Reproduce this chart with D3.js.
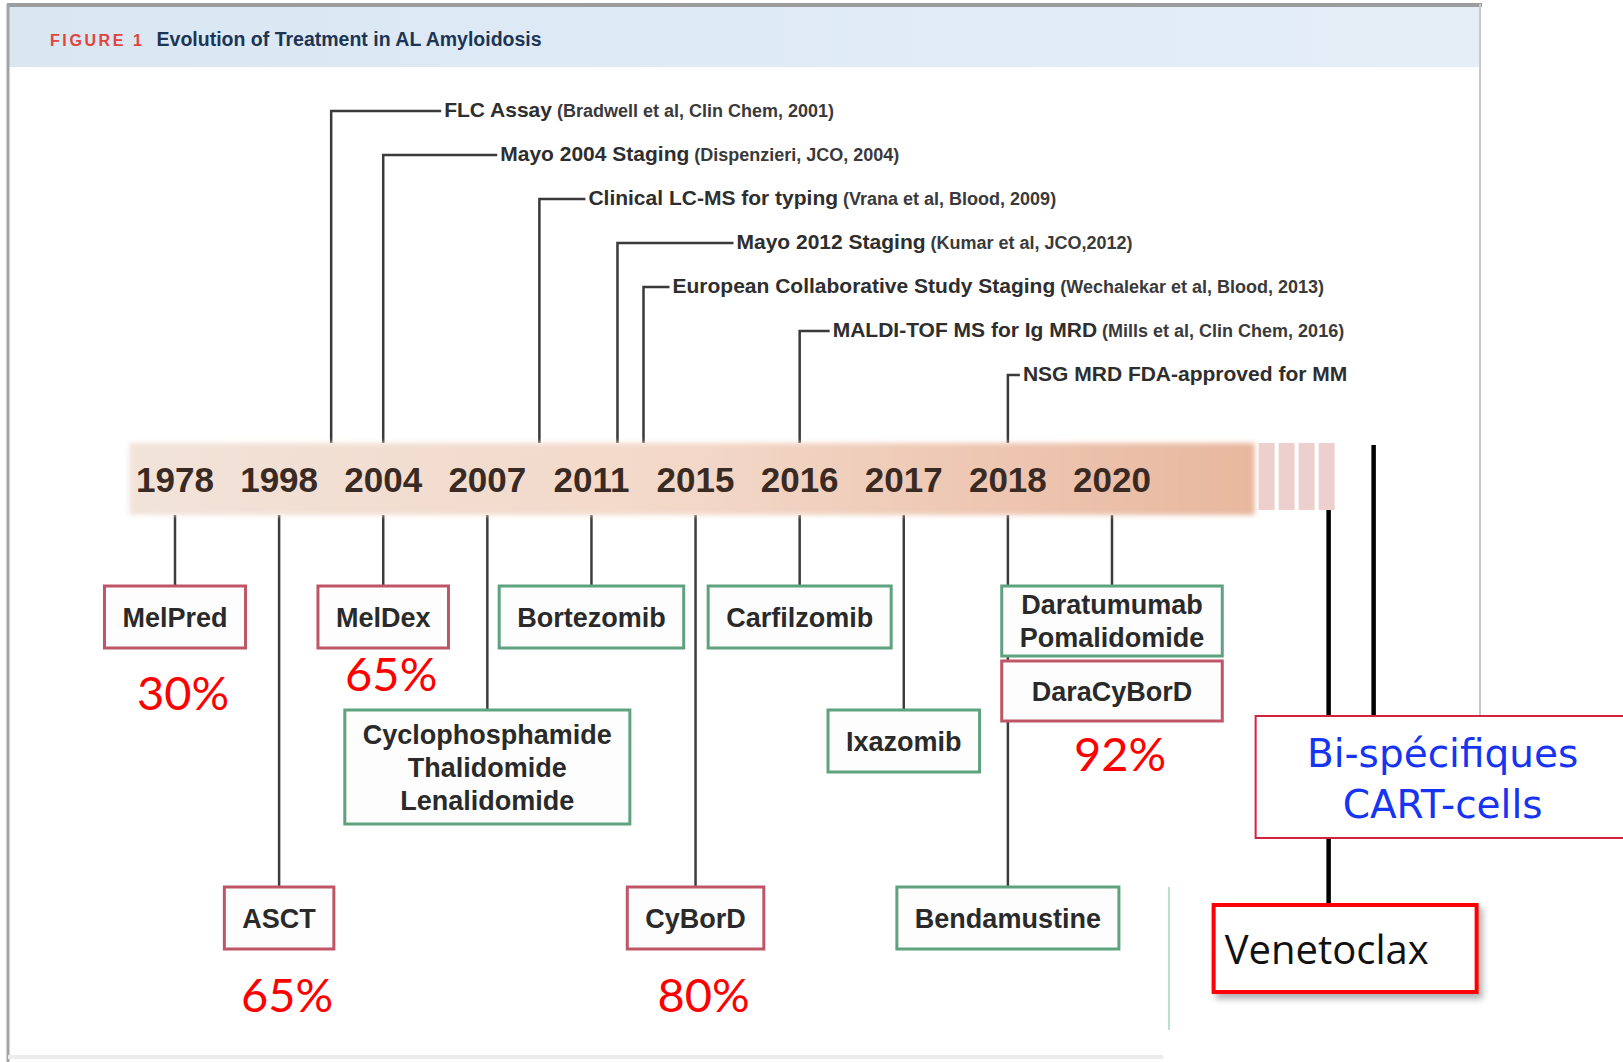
<!DOCTYPE html>
<html>
<head>
<meta charset="utf-8">
<script src="https://cdn.jsdelivr.net/npm/d3@7"></script>
<style>
  html, body { margin: 0; padding: 0; background: #fff; }
  svg { display: block; }
</style>
</head>
<body>
<svg id="chart" width="1623" height="1062"></svg>
<script>
// years printed on the timeline band
const years = ["1978", "1998", "2004", "2007", "2011", "2015", "2016", "2017", "2018", "2020"];

// diagnostic milestones above the band
const milestoneNames = ["FLC Assay", "Mayo 2004 Staging", "Clinical LC-MS for typing", "Mayo 2012 Staging",
  "European Collaborative Study Staging", "MALDI-TOF MS for Ig MRD", "NSG MRD FDA-approved for MM"];
const milestoneRefs = ["(Bradwell et al, Clin Chem, 2001)", "(Dispenzieri, JCO, 2004)", "(Vrana et al, Blood, 2009)",
  "(Kumar et al, JCO,2012)", "(Wechalekar et al, Blood, 2013)", "(Mills et al, Clin Chem, 2016)", ""];
const milestoneYears = [2001, 2004, 2009, 2012, 2013, 2016, 2018];

// treatments below the band
const treatmentLabels = [["MelPred"], ["ASCT"], ["MelDex"], ["Cyclophosphamide", "Thalidomide", "Lenalidomide"],
  ["Bortezomib"], ["CyBorD"], ["Carfilzomib"], ["Ixazomib"], ["Bendamustine"], ["Daratumumab", "Pomalidomide"], ["DaraCyBorD"]];
const treatmentYears = ["1978", "1998", "2004", "2007", "2011", "2015", "2016", "2017", "2018", "2020", "2020"];
const treatmentTier = [0, 2, 0, 1, 0, 2, 0, 1, 2, 0, 0];
const treatmentStack = [0, 0, 0, 0, 0, 0, 0, 0, 0, 0, 1];
const treatmentKind = ["chemo", "chemo", "chemo", "novel", "novel", "chemo", "novel", "novel", "novel", "novel", "chemo"];

// response rates written under some boxes
const rateTreatments = ["MelPred", "MelDex", "ASCT", "CyBorD", "DaraCyBorD"];
const rateValues = [30, 65, 65, 80, 92];

// newer options added after 2020
const futureLabels = [["Venetoclax"], ["Bi-spécifiques", "CART-cells"]];

// ---- layout ----
const svg = d3.select("#chart");
const barTop = 443, barBottom = 515;
const tierTop = [586, 710, 887];
const boxHeight = { 1: 62, 2: 70, 3: 114 };
const lineGap = 33;
const leads = [110, 114, 46, 116, 26, 30, 12];
const rateOffset = [45, 26, 46, 46, 33];

const x = d3.scalePoint().domain(years).range([175, 1112]);
const step = x.step();
// continuous year scale running through the year slots
const t = d3.scaleLinear().domain(years.map(Number)).range(years.map(d => x(d)));
const yMile = d3.scalePoint().domain(d3.range(milestoneNames.length)).range([111, 375]);

const defs = svg.append("defs");
const g1 = defs.append("linearGradient").attr("id", "band");
g1.append("stop").attr("offset", "0%").attr("stop-color", "#f2e3d9");
g1.append("stop").attr("offset", "50%").attr("stop-color", "#f3d8c8");
g1.append("stop").attr("offset", "100%").attr("stop-color", "#e8b79e");
const g2 = defs.append("linearGradient").attr("id", "head");
g2.append("stop").attr("offset", "0%").attr("stop-color", "#d9e7f3");
g2.append("stop").attr("offset", "100%").attr("stop-color", "#e5eef7");
defs.append("filter").attr("id", "soft").attr("x", "-5%").attr("y", "-20%").attr("width", "110%").attr("height", "140%")
  .append("feGaussianBlur").attr("stdDeviation", 2.5);
const sh = defs.append("filter").attr("id", "shadow").attr("x", "-10%").attr("y", "-10%").attr("width", "130%").attr("height", "140%");
sh.append("feDropShadow").attr("dx", 4).attr("dy", 5).attr("stdDeviation", 3).attr("flood-color", "#000").attr("flood-opacity", 0.3);

// frame and header
svg.append("rect").attr("x", 9).attr("y", 7).attr("width", 1471).attr("height", 60).attr("fill", "url(#head)");
svg.append("line").attr("x1", 7).attr("x2", 1482).attr("y1", 5).attr("y2", 5).attr("stroke", "#9c9c9c").attr("stroke-width", 4);
svg.append("line").attr("x1", 8).attr("x2", 8).attr("y1", 4).attr("y2", 1062).attr("stroke", "#a3a3a3").attr("stroke-width", 3);
svg.append("line").attr("x1", 1480).attr("x2", 1480).attr("y1", 4).attr("y2", 716).attr("stroke", "#c9c9c9").attr("stroke-width", 2);
svg.append("line").attr("x1", 8).attr("x2", 1163).attr("y1", 1057).attr("y2", 1057).attr("stroke", "#ececec").attr("stroke-width", 4);

const title = svg.append("text").attr("x", 50).attr("y", 46).attr("font-family", "Liberation Sans, Arial, sans-serif").attr("font-weight", "bold");
title.append("tspan").text("FIGURE 1").attr("fill", "#e2433d").attr("font-size", 16).attr("letter-spacing", 2.6);
title.append("tspan").text("Evolution of Treatment in AL Amyloidosis").attr("fill", "#1d3554").attr("font-size", 19.5).attr("dx", 12);

// milestones above the band
const miles = svg.append("g").attr("font-family", "Liberation Sans, Arial, sans-serif").attr("font-weight", "bold").attr("fill", "#2e2e2e");
milestoneNames.forEach((name, i) => {
  const mx = t(milestoneYears[i]), my = yMile(i);
  miles.append("path").attr("d", `M${mx},${barTop}V${my}H${mx + leads[i]}`)
    .attr("fill", "none").attr("stroke", "#3a3a3a").attr("stroke-width", 2.5);
  const tx = miles.append("text").attr("x", mx + leads[i] + 3).attr("y", my).attr("dy", "0.35em");
  tx.append("tspan").text(name).attr("font-size", 21);
  if (milestoneRefs[i]) tx.append("tspan").text(" " + milestoneRefs[i]).attr("font-size", 18).attr("fill", "#3a3a3a");
});

// timeline band
const bandX0 = x(years[0]) - step * 0.44;
const bandX1 = x(years[years.length - 1]) + step * 1.37;
svg.append("rect").attr("x", bandX0).attr("y", barTop).attr("width", bandX1 - bandX0).attr("height", barBottom - barTop)
  .attr("fill", "url(#band)").attr("filter", "url(#soft)");
// striped continuation
const stripes = d3.range(4);
svg.selectAll(".stripe").data(stripes).join("rect").attr("class", "stripe")
  .attr("x", d => bandX1 + 4 + d * 20).attr("y", barTop).attr("width", 16).attr("height", 67)
  .attr("fill", "#e9c4c0").attr("opacity", 0.8);

svg.selectAll(".year").data(years).join("text").attr("class", "year")
  .attr("x", d => x(d)).attr("y", 492).attr("text-anchor", "middle")
  .attr("font-family", "Liberation Sans, Arial, sans-serif").attr("font-weight", "bold").attr("font-size", 35)
  .attr("fill", "#3a2a24").text(d => d);

// treatment boxes
const treatments = treatmentLabels.map((lines, i) => ({
  lines, year: treatmentYears[i], tier: treatmentTier[i], stack: treatmentStack[i], kind: treatmentKind[i]
}));
const boxes = svg.append("g").attr("font-family", "Liberation Sans, Arial, sans-serif").attr("font-weight", "bold");
treatments.forEach(d => {
  d.cx = x(d.year);
  d.h = d.stack ? 60 : boxHeight[d.lines.length];
  d.g = boxes.append("g");
  d.texts = d.g.selectAll("text").data(d.lines).join("text")
    .attr("x", d.cx).attr("text-anchor", "middle").attr("font-size", 27).attr("fill", "#2a2a2a").text(s => s);
  d.textW = d3.max(d.texts.nodes(), n => n.getComputedTextLength());
});
treatments.forEach(d => {
  const group = treatments.filter(o => o.year === d.year);
  d.w = d3.max(group, o => o.textW) + 36;
  if (d.stack) {
    const parent = group.find(o => !o.stack);
    d.top = tierTop[parent.tier] + parent.h + 5;
  } else {
    d.top = tierTop[d.tier];
  }
  d.bottom = d.top + d.h;
  if (!d.stack) {
    svg.insert("line", "g").attr("x1", d.cx).attr("x2", d.cx).attr("y1", barBottom).attr("y2", d.top)
      .attr("stroke", "#3c3c3c").attr("stroke-width", 2.5);
  }
  d.g.insert("rect", "text").attr("x", d.cx - d.w / 2).attr("y", d.top).attr("width", d.w).attr("height", d.h)
    .attr("fill", "#fdfdfd").attr("stroke", d.kind === "chemo" ? "#bf5667" : "#5fa27e").attr("stroke-width", 3);
  const n = d.lines.length;
  const midY = d.top + d.h / 2;
  d.texts.attr("y", (s, k) => midY + (k - (n - 1) / 2) * lineGap).attr("dy", "0.36em");
});

// response rates
rateTreatments.forEach((name, i) => {
  const b = treatments.find(d => d.lines.includes(name));
  svg.append("text").attr("x", b.cx + 8).attr("y", b.bottom + rateOffset[i]).attr("dy", "0.36em")
    .attr("text-anchor", "middle").attr("font-family", "Lato, Open Sans, sans-serif").attr("font-size", 47)
    .attr("fill", "#ff0000").text(rateValues[i] + "%");
});

// stray divider near bendamustine
const bend = treatments.find(d => d.lines[0] === "Bendamustine");
svg.append("line").attr("x1", bend.cx + bend.w / 2 + 50).attr("x2", bend.cx + bend.w / 2 + 50)
  .attr("y1", bend.top).attr("y2", 1030).attr("stroke", "#b8e0c6").attr("stroke-width", 2);

// newer options
const stripeEnd = bandX1 + 4 + 4 * 20 - 4;
const fx = d3.scalePoint().domain(d3.range(futureLabels.length)).range([stripeEnd - 6, stripeEnd + 39]);
svg.append("line").attr("x1", fx(0)).attr("x2", fx(0)).attr("y1", barTop + 67).attr("y2", 905)
  .attr("stroke", "#000").attr("stroke-width", 4.5);
svg.append("line").attr("x1", fx(1)).attr("x2", fx(1)).attr("y1", barTop + 2).attr("y2", 716)
  .attr("stroke", "#000").attr("stroke-width", 4.5);

const venX = fx(0) - 115;
svg.append("rect").attr("x", venX).attr("y", 905).attr("width", 263).attr("height", 87)
  .attr("fill", "#fff").attr("stroke", "#ff0000").attr("stroke-width", 4).attr("filter", "url(#shadow)");
svg.append("text").attr("x", venX + 11).attr("y", 950).attr("dy", "0.36em")
  .attr("font-family", "Open Sans, sans-serif").attr("font-size", 40).attr("fill", "#111").text(futureLabels[0][0]);

const bisX = fx(1) - 118;
svg.append("rect").attr("x", bisX).attr("y", 716).attr("width", 420).attr("height", 122)
  .attr("fill", "#fff").attr("stroke", "#d4213d").attr("stroke-width", 2);
svg.selectAll(".future").data(futureLabels[1]).join("text").attr("class", "future")
  .attr("x", bisX + 187).attr("y", (d, i) => 753 + i * 51).attr("dy", "0.36em").attr("text-anchor", "middle")
  .attr("font-family", "DejaVu Sans, sans-serif").attr("font-size", 39).attr("fill", "#1634f2").text(d => d);
</script>
</body>
</html>
